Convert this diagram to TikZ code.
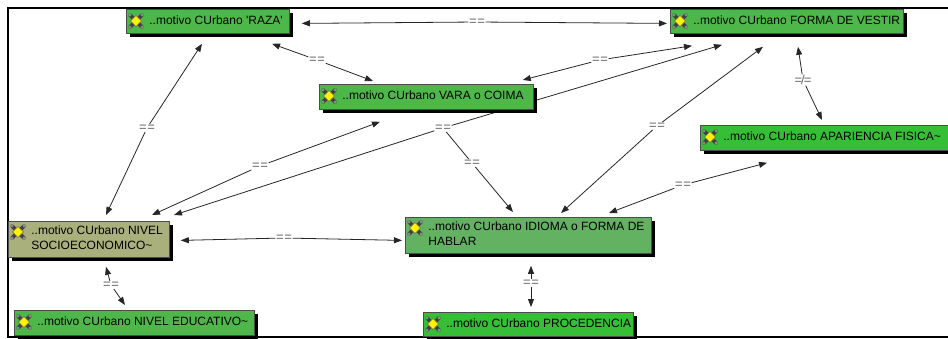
\documentclass[tikz,border=0pt]{standalone}
\usepackage{fontspec}
\setmainfont{Liberation Sans}
\usetikzlibrary{arrows.meta,shadows}
\pgfdeclarelayer{bg}
\pgfsetlayers{bg,main}
\definecolor{gA}{HTML}{4DB849}
\definecolor{gB}{HTML}{36BE36}
\definecolor{gC}{HTML}{62B262}
\definecolor{olv}{HTML}{A9B07B}
\newcommand{\mtx}[2]{\hbox to #1{\hspace{23pt}\vbox{#2}\hss}}
\newcommand{\mline}[1]{\hbox{\strut #1}}
\newcommand{\eqeq}{=\kern0.6pt=}
\newcommand{\neqeq}{=\kern-1pt/\kern-1pt=}
\tikzset{pics/ico/.style={code={
  \draw[line width=3.6pt, draw=black!75, line cap=round] (-6,-6) -- (6,6) (-6,6) -- (6,-6);
  \fill[black!45] (-6,-6) circle (1.6) (6,6) circle (1.6) (-6,6) circle (1.6) (6,-6) circle (1.6);
  \draw[fill=yellow, draw=black!60, line width=0.6pt] (0,-5.5) -- (5.5,0) -- (0,5.5) -- (-5.5,0) -- cycle;
}}}
\begin{document}
\begin{tikzpicture}[x=1pt,y=-1pt,
  mbox/.style={rectangle, anchor=north west, inner sep=0pt, draw=black!70, line width=0.8pt,
    drop shadow={shadow xshift=4pt, shadow yshift=-4pt, fill=black, opacity=1}},
  lbl/.style={inner sep=0.6pt, text=black!60, font=\fontsize{13}{13}\selectfont},
  cn/.style={draw=black!85, line width=0.8pt, -{Triangle[length=8pt,width=6pt]}},
  ln/.style={draw=black!85, line width=0.8pt},
  font=\fontsize{12}{15}\selectfont]
\useasboundingbox (0,0) rectangle (948,339);
% boxes
\node[mbox, fill=gA, minimum width=163pt, minimum height=24pt] (raza) at (126,9) {\mtx{163pt}{\mline{..motivo CUrbano \textquotesingle RAZA\textquotesingle}}};
\node[mbox, fill=gA, minimum width=233pt, minimum height=24pt] (vestir) at (670,9) {\mtx{233pt}{\mline{..motivo CUrbano FORMA DE VESTIR}}};
\node[mbox, fill=gA, minimum width=214pt, minimum height=25pt] (vara) at (319,84) {\mtx{214pt}{\mline{..motivo CUrbano VARA o COIMA}}};
\node[mbox, fill=gB, minimum width=260pt, minimum height=25pt] (apar) at (700,125) {\mtx{260pt}{\mline{..motivo CUrbano APARIENCIA FISICA\textasciitilde}}};
\node[mbox, fill=olv, minimum width=161pt, minimum height=36pt] (nivel) at (8,221) {\mtx{161pt}{\mline{..motivo CUrbano NIVEL}\mline{SOCIOECONOMICO\textasciitilde}}};
\node[mbox, fill=gC, minimum width=246pt, minimum height=36pt] (idioma) at (405,217) {\mtx{246pt}{\mline{..motivo CUrbano IDIOMA o FORMA DE}\mline{HABLAR}}};
\node[mbox, fill=gA, minimum width=240pt, minimum height=25pt] (educ) at (14,310) {\mtx{240pt}{\mline{..motivo CUrbano NIVEL EDUCATIVO\textasciitilde}}};
\node[mbox, fill=gB, minimum width=210pt, minimum height=24pt] (proc) at (423,312) {\mtx{210pt}{\mline{..motivo CUrbano PROCEDENCIA}}};
% icons
\foreach \n in {raza,vestir,vara,apar,educ,proc} {\pic at ([shift={(10,12)}]\n.north west) {ico};}
\foreach \n in {nivel,idioma} {\pic at ([shift={(10,11)}]\n.north west) {ico};}
\begin{pgfonlayer}{bg}
\draw[line width=2pt] (948,8) -- (8,8) -- (8,337) -- (948,337);
% labels
\node[lbl] (l1) at (477,22) {\eqeq};
\node[lbl] (l2) at (317,60) {\eqeq};
\node[lbl] (l3) at (147,128) {\eqeq};
\node[lbl] (l4) at (260,166) {\eqeq};
\node[lbl] (l5) at (443,128) {\eqeq};
\node[lbl] (l6) at (472,163) {\eqeq};
\node[lbl] (l7) at (600,60) {\eqeq};
\node[lbl] (l8) at (803,80) {\neqeq};
\node[lbl] (l9) at (657,126) {\eqeq};
\node[lbl] (l10) at (683,185) {\eqeq};
\node[lbl] (l11) at (284,238) {\eqeq};
\node[lbl] (l12) at (111,285) {\eqeq};
\node[lbl] (l13) at (531,283) {\eqeq};
% connectors
\draw[cn] (l1) -- ([shift={(12,2)}]raza.east);
\draw[cn] (l1) -- ([shift={(-3,2)}]vestir.west);
\draw[cn] (l2) -- ([shift={(146,10)}]raza.south west);
\draw[cn] (l2) -- ([shift={(54,-3)}]vara.north west);
\draw[cn] (l3) -- ([shift={(76,10)}]raza.south west);
\draw[cn] (l3) -- ([shift={(98,-6)}]nivel.north west);
\draw[cn] (l4) -- ([shift={(61,12)}]vara.south west);
\draw[cn] (l4) -- ([shift={(144,-6)}]nivel.north west);
\draw[cn] (l5) -- ([shift={(52,11)}]vestir.south west);
\draw[cn] (l5) -- ([shift={(166,-6)}]nivel.north west);
\draw[ln] (l5) -- (l6);
\draw[cn] (l6) -- ([shift={(108,-5)}]idioma.north west);
\draw[cn] (l7) -- ([shift={(-11,-4)}]vara.north east);
\draw[cn] (l7) -- ([shift={(22,12)}]vestir.south west);
\draw[cn] (l8) -- ([shift={(128,13)}]vestir.south west);
\draw[cn] (l8) -- ([shift={(122,-5)}]apar.north west);
\draw[cn] (l9) -- ([shift={(93,13)}]vestir.south west);
\draw[cn] (l9) -- ([shift={(156,-4)}]idioma.north west);
\draw[cn] (l10) -- ([shift={(67,12)}]apar.south west);
\draw[cn] (l10) -- ([shift={(204,-4)}]idioma.north west);
\draw[cn] (l11) -- ([shift={(11,1)}]nivel.east);
\draw[cn] (l11) -- ([shift={(-3,5)}]idioma.west);
\draw[cn] (l12) -- ([shift={(98,9)}]nivel.south west);
\draw[cn] (l12) -- ([shift={(111,-5)}]educ.north west);
\draw[cn] (l13) -- ([shift={(126,12)}]idioma.south west);
\draw[cn] (l13) -- ([shift={(108,-5)}]proc.north west);
\end{pgfonlayer}
\end{tikzpicture}
\end{document}
